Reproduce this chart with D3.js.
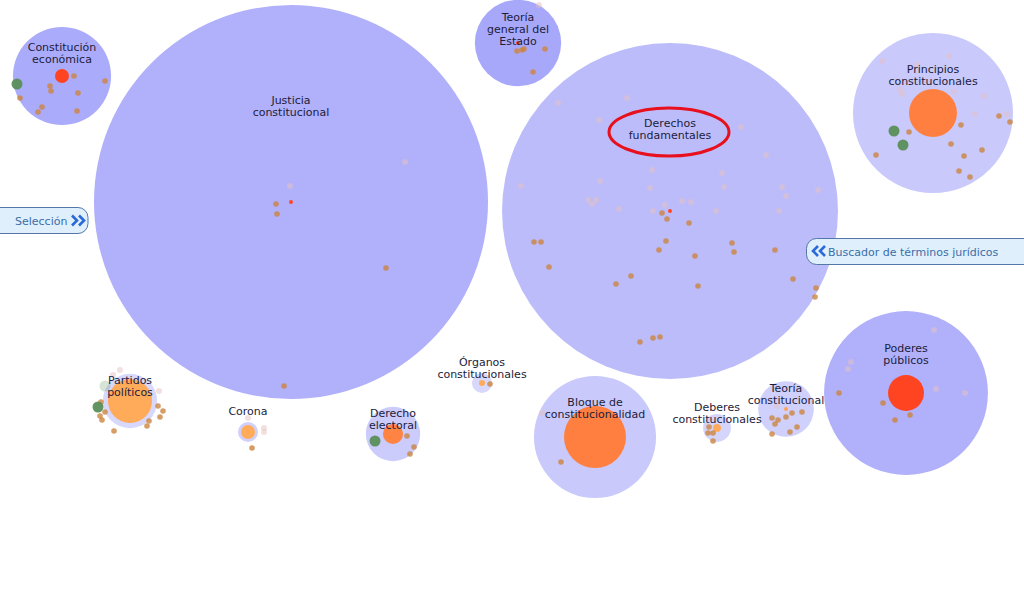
<!DOCTYPE html>
<html>
<head>
<meta charset="utf-8">
<script src="https://cdn.jsdelivr.net/npm/d3@7"></script>
<style>
  body { margin: 0; background: #fff; overflow: hidden; }
  svg { display: block; font-family: "DejaVu Sans", Verdana, sans-serif; }
</style>
</head>
<body>
<div class="chart"></div>
<script>
// topics (big bubbles), in layout units
const topicLines = [
    ["Constitución", "económica"], ["Justicia", "constitucional"], ["Teoría", "general del", "Estado"],
    ["Derechos", "fundamentales"], ["Principios", "constitucionales"], ["Poderes", "públicos"],
    ["Bloque de", "constitucionalidad"], ["Teoría", "constitucional"], ["Deberes", "constitucionales"],
    ["Derecho", "electoral"], ["Órganos", "constitucionales"], ["Corona"], ["Partidos", "políticos"]
]
const topicX = [62, 291, 518, 670, 933, 906, 595, 786, 717, 393, 482, 248, 130]
const topicY = [76, 202, 43, 211, 113, 393, 437, 409, 428, 434, 383, 432, 401]
const topicDocs = [62, 1000, 48, 727, 165, 173, 96, 20, 5, 19, 2.6, 2.6, 19]
const topicWeight = [0.95, 0.85, 1, 0.6, 0.35, 0.85, 0.35, 0.2, 0.1, 0.3, 0.05, 0.2, 0.05]
// matches of the search inside every topic
const matchDocs = [1.26, 0.1, 0.1, 0.1, 14.8, 8.3, 24.8, 0.1, 0.4, 2.6, 0.23, 1.26, 12.5]
const matchHeat = [1, 1, 1, 1, 0.5, 1, 0.5, 0.1, 0, 0.45, 0, 0, 0]

// single documents
const citedDots = [
    [74, 76], [105, 81], [50, 86], [51, 91], [78, 93], [20, 98], [42, 107], [38, 112], [77, 111],
    [517, 51], [522, 50], [524, 49], [545, 49], [533, 72],
    [276, 204], [277, 214], [386, 268], [284, 386],
    [662, 213], [667, 219], [689, 223], [534, 242], [541, 242], [666, 241], [659, 250], [732, 243],
    [734, 252], [775, 250], [695, 256], [549, 267], [631, 276], [616, 284], [698, 286], [793, 279],
    [816, 288], [815, 297], [640, 342], [653, 338], [660, 337],
    [999, 116], [1010, 122], [961, 125], [909, 132], [951, 144], [982, 150], [964, 156], [876, 155],
    [959, 171], [970, 177],
    [839, 393], [883, 403], [910, 415], [895, 420],
    [561, 462],
    [772, 418], [778, 420], [775, 424], [786, 417], [792, 413], [802, 412], [797, 427], [790, 432], [772, 434],
    [709, 427], [708, 433], [713, 433], [713, 441],
    [407, 436], [414, 447], [410, 454],
    [490, 384],
    [252, 448],
    [158, 406], [163, 411], [160, 417], [149, 421], [147, 426], [105, 412], [100, 416], [102, 420],
    [114, 431], [101, 402]
]
const faintDots = [
    [539, 5],
    [405, 162], [290, 186],
    [558, 103], [627, 98], [599, 120], [741, 127], [766, 155],
    [521, 186], [600, 181], [652, 170], [722, 173], [650, 188], [724, 187], [782, 187], [786, 196],
    [818, 190], [588, 200], [596, 200], [592, 204], [619, 209], [665, 205], [682, 201], [691, 202],
    [653, 211], [716, 211], [779, 211],
    [882, 61], [949, 56], [917, 65], [900, 90], [902, 94], [954, 92], [984, 96], [975, 114], [1007, 114],
    [934, 330], [851, 362], [848, 369], [936, 389], [965, 393],
    [542, 413],
    [777, 406],
    [248, 418], [264, 428], [264, 432],
    [120, 370], [113, 375], [159, 391]
]
const greenDots = [[17, 84], [894, 131], [903, 145], [98, 407], [375, 441]]
const faintGreenDots = [[105, 386]]

const highlighted = "Derechos fundamentales"
const leftButton = "Selección"
const rightButton = "Buscador de términos jurídicos"

const width = 1024
const height = 591

const x = d3.scaleLinear().domain([0, 1024]).range([0, width])
const y = d3.scaleLinear().domain([0, 591]).range([0, height])
const r = d3.scaleSqrt().domain([0, 1000]).range([0, 197])
const shade = d3.scaleLinear().domain([0, 1]).range(["#dadafc", "#a8a8fb"])
const heat = d3.scaleLinear().domain([0, 0.5, 1]).range(["#ffab5a", "#ff7f40", "#ff4422"])

const topics = topicLines.map((lines, i) => ({
    name: lines.join(" "),
    lines,
    x: topicX[i],
    y: topicY[i],
    docs: topicDocs[i],
    weight: topicWeight[i],
    match: matchDocs[i],
    heat: matchHeat[i]
}))

let svg = d3.select(".chart")
    .append("svg")
    .attr("width", width)
    .attr("height", height)

svg.append("g")
    .selectAll("circle")
    .data(topics)
    .join("circle")
    .attr("cx", d => x(d.x))
    .attr("cy", d => y(d.y))
    .attr("r", d => r(d.docs))
    .attr("fill", d => shade(d.weight))

svg.append("g")
    .selectAll("circle")
    .data(topics)
    .join("circle")
    .attr("cx", d => x(d.x))
    .attr("cy", d => y(d.y))
    .attr("r", d => Math.max(r(d.match), 1.8))
    .attr("fill", d => heat(d.heat))

const dotLayer = (data, fill, opacity, radius) => {
    svg.append("g")
        .selectAll("circle")
        .data(data)
        .join("circle")
        .attr("cx", d => x(d[0]))
        .attr("cy", d => y(d[1]))
        .attr("r", radius)
        .attr("fill", fill)
        .attr("fill-opacity", opacity)
}
dotLayer(faintDots, "#e6c2c2", 0.5, 3)
dotLayer(citedDots, "#cc8440", 0.8, 2.8)
dotLayer(faintGreenDots, "#5c925c", 0.25, 5.5)
dotLayer(greenDots, "#5a8f5a", 0.95, 5.5)

// red ellipse round the highlighted topic label
const hl = topics.find(d => d.name === highlighted)
const lift = d => Math.max(r(d.docs) / 2 + 4, 21)
svg.append("ellipse")
    .attr("cx", x(hl.x) - 1)
    .attr("cy", y(hl.y) - lift(hl) + 9)
    .attr("rx", 60)
    .attr("ry", 24)
    .attr("fill", "none")
    .attr("stroke", "#e8101c")
    .attr("stroke-width", 3)

svg.append("g")
    .selectAll("text")
    .data(topics)
    .join("text")
    .attr("text-anchor", "middle")
    .attr("font-size", 11)
    .attr("fill", "#1c1c3a")
    .attr("x", d => x(d.x))
    .attr("y", d => y(d.y) - lift(d) + 4)
    .selectAll("tspan")
    .data(d => d.lines.map(t => ({ t, x: x(d.x) })))
    .join("tspan")
    .attr("x", d => d.x)
    .attr("dy", (d, i) => i ? 12 : 0)
    .text(d => d.t)

// side buttons
const chevrons = (g, x0, y0, dir) => {
    [0, 7].forEach(o => {
        const a = x0 + o
        g.append("path")
            .attr("d", dir > 0
                ? `M${a},${y0 - 5} L${a + 5},${y0} L${a},${y0 + 5}`
                : `M${a + 5},${y0 - 5} L${a},${y0} L${a + 5},${y0 + 5}`)
            .attr("fill", "none")
            .attr("stroke", "#2a6ad8")
            .attr("stroke-width", 2.6)
    })
}

let left = svg.append("g")
left.append("rect")
    .attr("x", -14).attr("y", 207.5)
    .attr("width", 102).attr("height", 26)
    .attr("rx", 10)
    .attr("fill", "#e0effc")
    .attr("stroke", "#5577a8")
left.append("text")
    .attr("x", 15).attr("y", 224.5)
    .attr("font-size", 11)
    .attr("fill", "#3a6ea8")
    .text(leftButton)
chevrons(left, 72, 220.5, 1)

let right = svg.append("g")
right.append("rect")
    .attr("x", 806.5).attr("y", 238.5)
    .attr("width", 230).attr("height", 26)
    .attr("rx", 10)
    .attr("fill", "#e0effc")
    .attr("stroke", "#5577a8")
right.append("text")
    .attr("x", 828).attr("y", 255.5)
    .attr("font-size", 11)
    .attr("fill", "#3a6ea8")
    .text(rightButton)
chevrons(right, 813, 251, -1)
</script>
</body>
</html>
